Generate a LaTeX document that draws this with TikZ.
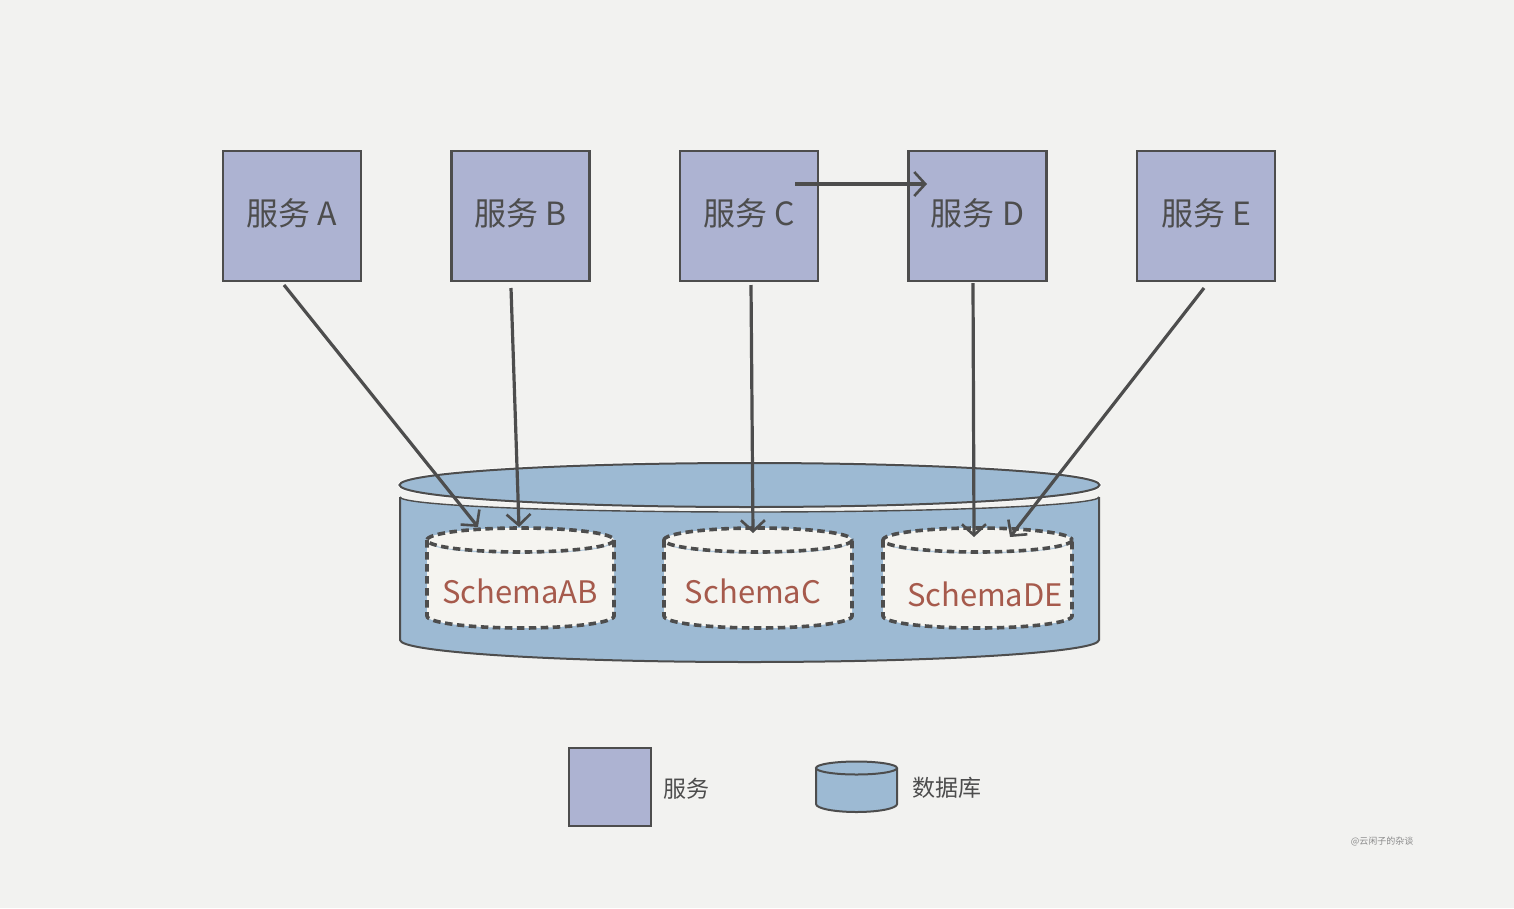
\documentclass[tikz,border=0pt]{standalone}
\usepackage{fontspec}
\newfontfamily\cjk{Noto Sans CJK SC}
\usetikzlibrary{arrows.meta}
\definecolor{bg}{HTML}{F2F2F0}
\definecolor{svc}{HTML}{ADB3D2}
\definecolor{db}{HTML}{9DBAD3}
\definecolor{ink}{HTML}{4D4D4D}
\definecolor{schemafill}{HTML}{F5F4F0}
\definecolor{schematext}{HTML}{A65A4C}
\definecolor{mark}{HTML}{8A8A8A}
\newcommand\schemacyl[2]{%
  \fill[schemafill] ({#1-#2},540) -- ({#1-#2},616) arc[start angle=180,end angle=0,x radius=#2,y radius=12] -- ({#1+#2},540) arc[start angle=0,end angle=180,x radius=#2,y radius=12] -- cycle;
  \fill[schemafill] (#1,540) ellipse[x radius=#2,y radius=12];
  \draw[db!80!white, line width=1pt] ({#1-#2+4},543) arc[start angle=180,end angle=0,x radius={#2-4},y radius=10];
  \draw[sdash] ({#1-#2},540) -- ({#1-#2},616) arc[start angle=180,end angle=0,x radius=#2,y radius=12] -- ({#1+#2},540);
  \draw[sdash] (#1,540) ellipse[x radius=#2,y radius=12];
}
\begin{document}
\begin{tikzpicture}[x=1pt,y=-1pt,
  svcbox/.style={draw=ink, line width=2.2pt, fill=svc, minimum width=138pt, minimum height=130pt, inner sep=0pt},
  svctext/.style={font=\cjk\fontsize{32}{36}\selectfont, text=ink, inner sep=0pt},
  conn/.style={draw=ink, line width=3.2pt, -{Straight Barb[length=11pt,width=24pt,line width=2.6pt]}},
  sdash/.style={draw=ink, line width=3.6pt, dash pattern=on 7.5pt off 4.5pt},
  schemalabel/.style={font=\cjk\fontsize{31}{36}\selectfont, text=schematext, inner sep=0pt},
  legtext/.style={font=\cjk\fontsize{23}{26}\selectfont, text=ink, inner sep=0pt}]
\useasboundingbox (0,0) rectangle (1514,908);
\fill[bg] (0,0) rectangle (1514,908);

% services
\node[svcbox] (A) at (292,216) {};
\node[svcbox] (B) at (520.5,216) {};
\node[svcbox] (C) at (749,216) {};
\node[svcbox] (D) at (977.5,216) {};
\node[svcbox] (E) at (1206,216) {};
\node[svctext] (At) at (292,213) {服务 A};
\node[svctext] (Bt) at (520.5,213) {服务 B};
\node[svctext] (Ct) at (749,213) {服务 C};
\node[svctext] (Dt) at (977.5,213) {服务 D};
\node[svctext] (Et) at (1206,213) {服务 E};

% big database
\fill[db] (400,497) -- (400,640) arc[start angle=180,end angle=0,x radius=349.5,y radius=22] -- (1099,497) arc[start angle=0,end angle=180,x radius=349.5,y radius=15] -- cycle;
\draw[ink, line width=2pt] (400,497) -- (400,640) arc[start angle=180,end angle=0,x radius=349.5,y radius=22] -- (1099,497);
\draw[ink, line width=1.4pt] (1099,497) arc[start angle=0,end angle=180,x radius=349.5,y radius=15];
\draw[white!60!bg, line width=4pt] (749.5,485) ellipse[x radius=350,y radius=22];
\draw[ink, line width=2pt, fill=db] (749.5,485) ellipse[x radius=350,y radius=22];

% schemas
\schemacyl{520.5}{93.5}
\schemacyl{758}{94}
\schemacyl{977.5}{94.5}
\node[schemalabel] (sab) at (520,591) {SchemaAB};
\node[schemalabel] (sc) at (753,591) {SchemaC};
\node[schemalabel] (sde) at (985,594) {SchemaDE};

% connector end points
\coordinate (sA) at (284,285);
\coordinate (sB) at (511,288);
\coordinate (sC) at (751,285);
\coordinate (sD) at (973,283);
\coordinate (sE) at (1204,288);
\coordinate (tA) at (478,527);
\coordinate (tB) at (519,527);
\coordinate (tC) at (753,533);
\coordinate (tD) at (974,537);
\coordinate (tE) at (1010,537);
\coordinate (cd1) at (795,184);
\coordinate (cd2) at (927,184);

\draw[conn] (sA) -- (tA);
\draw[conn] (sB) -- (tB);
\draw[conn] (sC) -- (tC);
\draw[conn] (sD) -- (tD);
\draw[conn] (sE) -- (tE);
\draw[conn] (cd1) -- (cd2);

% legend
\node[draw=ink, line width=2.2pt, fill=svc, minimum width=82pt, minimum height=78pt, inner sep=0pt] (legsvc) at (610,787) {};
\node[legtext] (legsvctxt) at (686,789) {服务};
\fill[db] (816,768) -- (816,804) arc[start angle=180,end angle=0,x radius=40.5,y radius=8] -- (897,768) -- cycle;
\draw[ink, line width=2pt] (816,768) -- (816,804) arc[start angle=180,end angle=0,x radius=40.5,y radius=8] -- (897,768);
\draw[ink, line width=2pt, fill=db] (856.5,768) ellipse[x radius=40.5,y radius=6.5];
\node[legtext] (legdbtxt) at (947,788) {数据库};

% watermark
\node[font=\cjk\fontsize{9}{10}\selectfont, text=mark, inner sep=0pt] (wm) at (1382,841) {@云闲子的杂谈};
\end{tikzpicture}
\end{document}
